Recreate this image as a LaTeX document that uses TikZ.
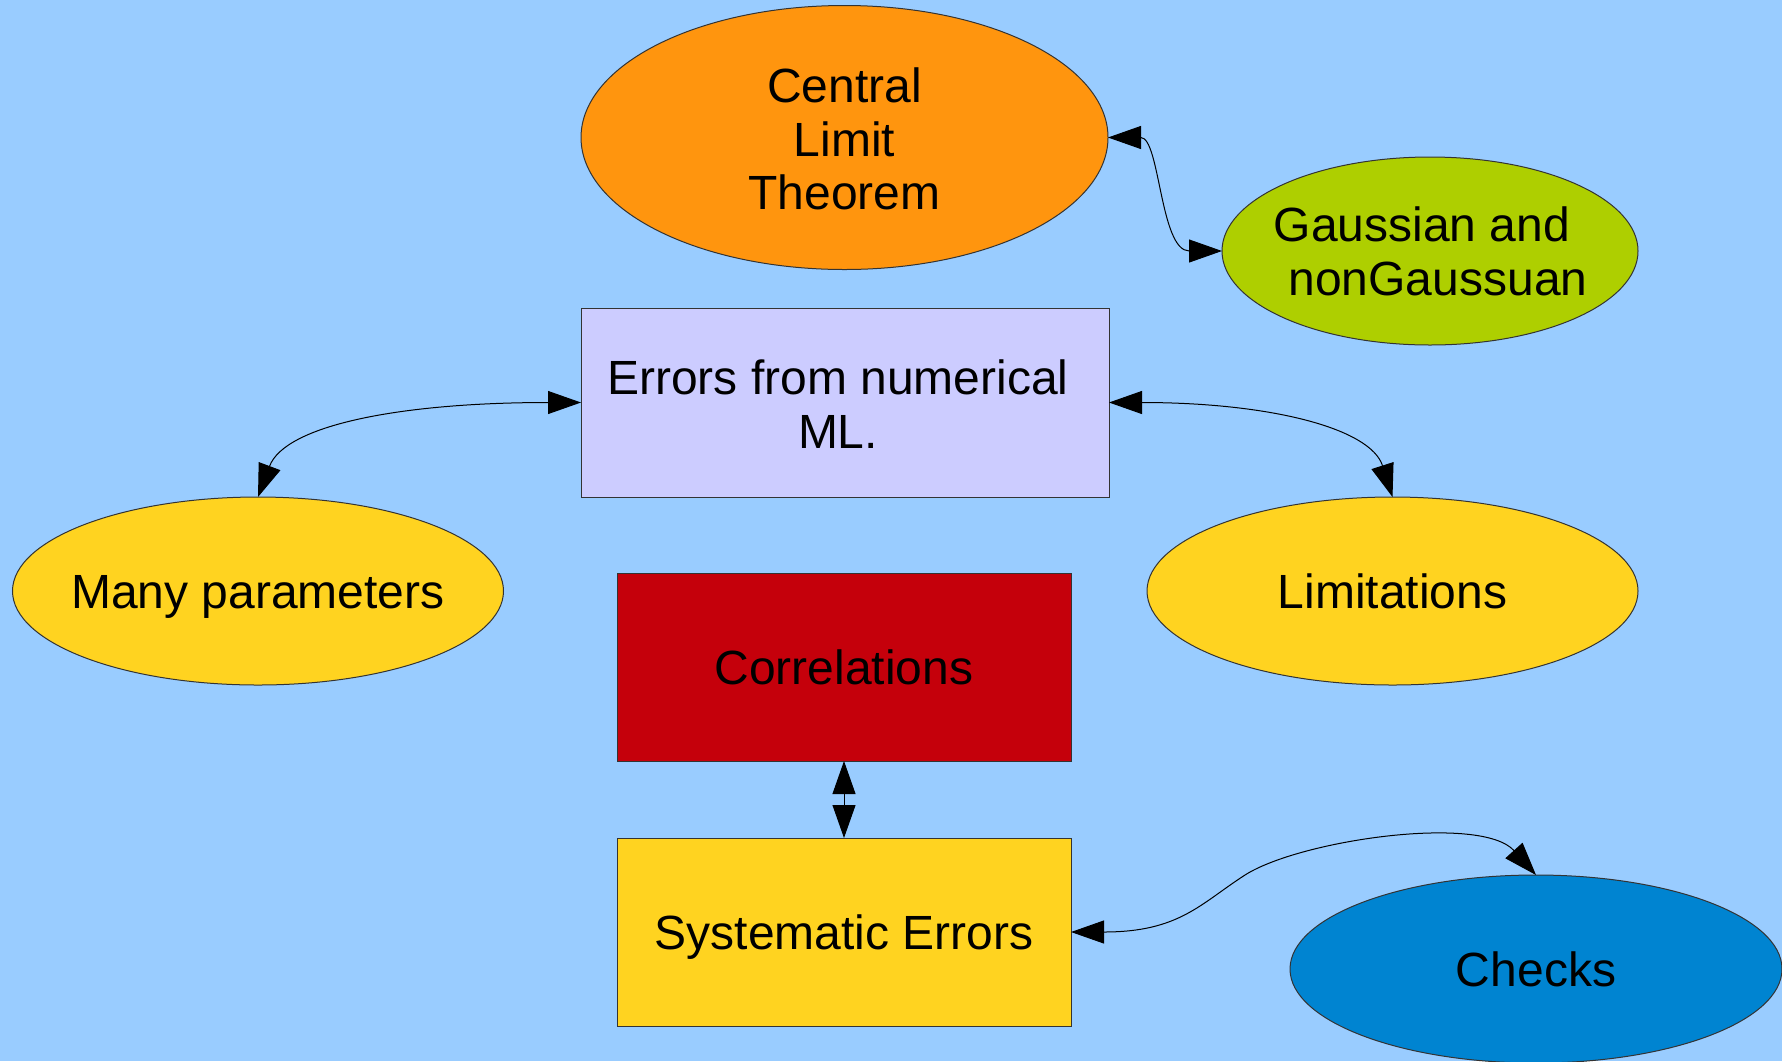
\documentclass[tikz,border=0pt]{standalone}
\usepackage{fontspec}
\setmainfont{Liberation Sans}
\usetikzlibrary{arrows.meta,shapes.geometric}
\definecolor{bgblue}{HTML}{99CCFF}
\definecolor{cltorange}{HTML}{FF950E}
\definecolor{gaussgreen}{HTML}{AECF00}
\definecolor{lavender}{HTML}{CCCCFF}
\definecolor{sunyellow}{HTML}{FFD320}
\definecolor{corrred}{HTML}{C5000B}
\definecolor{checkblue}{HTML}{0084D1}
\definecolor{edge}{HTML}{333333}
\tikzset{
  shapebase/.style={draw=edge, line width=1pt, inner sep=0pt, outer sep=0pt},
  ell/.style={shapebase, ellipse},
  box/.style={shapebase, rectangle},
  lbl/.style={font=\fontsize{48}{53.5}\selectfont, align=center, inner sep=0pt, text=black},
  onelbl/.style={lbl, text height=34.5pt, text depth=0pt},
  conn/.style={line width=1pt, draw=black, {Triangle[length=33pt,width=23pt]}-{Triangle[length=33pt,width=23pt]}}
}
\begin{document}
\begin{tikzpicture}[x=1pt,y=-1pt]
\fill[bgblue] (0,0) rectangle (1782,1061);
\useasboundingbox (0,0) rectangle (1782,1061);

% shapes
\node[ell, fill=cltorange, minimum width=527pt, minimum height=264pt] (clt) at (844.5,137.5) {};
\node[ell, fill=gaussgreen, minimum width=416pt, minimum height=188pt] (gauss) at (1430,251) {};
\node[box, fill=lavender, minimum width=528pt, minimum height=189pt] (err) at (845,402.5) {};
\node[ell, fill=sunyellow, minimum width=491pt, minimum height=188pt] (many) at (258,591) {};
\node[ell, fill=sunyellow, minimum width=491pt, minimum height=188pt] (lim) at (1392.5,591) {};
\node[box, fill=corrred, minimum width=454pt, minimum height=188pt] (corr) at (844,667) {};
\node[box, fill=sunyellow, minimum width=454pt, minimum height=188pt] (sys) at (844,932) {};
\node[ell, fill=checkblue, minimum width=492pt, minimum height=188pt] (chk) at (1536,969) {};

% labels
\node[lbl] (clt-t) at (844.5,139) {Central\\Limit\\Theorem};
\node[lbl] (gauss-t) at (1430,251.5) {Gaussian and\rule{16pt}{0pt}\\\rule{16pt}{0pt}nonGaussuan};
\node[lbl] (err-t) at (838,404) {Errors from numerical\\ML.};
\node[onelbl] (many-t) at (258,591) {Many parameters};
\node[onelbl] (lim-t) at (1392.5,591) {Limitations};
\node[onelbl] (corr-t) at (844,667) {Correlations};
\node[onelbl] (sys-t) at (844,932) {Systematic Errors};
\node[onelbl] (chk-t) at (1536,969) {Checks};

% connectors
\draw[conn] (clt.east) .. controls +(52,0) and +(-62,0) .. (gauss.west);
\draw[conn] (err.west) .. controls +(-180,0) and +(27,-72) .. (many.north);
\draw[conn] (err.east) .. controls +(160,0) and +(-22,-69) .. (lim.north);
\draw[conn] (corr.south) -- (sys.north);
\coordinate (sysmid) at (1245,875);
\draw[conn] (sys.east) .. controls +(108,0) and +(-45,29) .. (sysmid)
  .. controls +(55,-35) and +(-55,-61) .. (chk.north);
\end{tikzpicture}
\end{document}
